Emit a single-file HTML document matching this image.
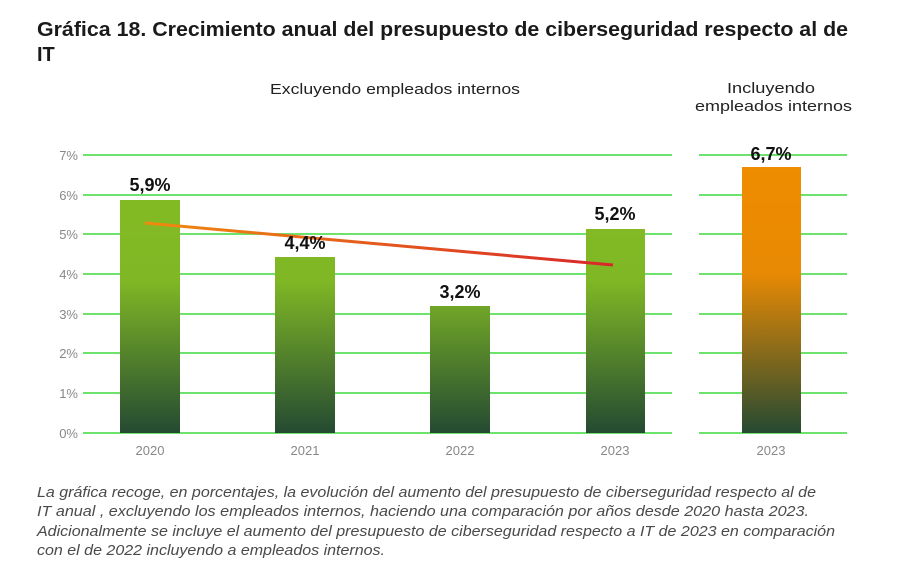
<!DOCTYPE html>
<html><head><meta charset="utf-8"><style>
body{margin:0;background:#fff;width:917px;height:583px;overflow:hidden;font-family:"Liberation Sans",sans-serif}
</style></head><body>
<svg width="917" height="583" xmlns="http://www.w3.org/2000/svg" style="position:absolute;left:0;top:0">
<defs>
<linearGradient id="gg" x1="0" y1="155" x2="0" y2="433" gradientUnits="userSpaceOnUse">
<stop offset="0" stop-color="#84bb24"/><stop offset="0.45" stop-color="#80b825"/><stop offset="1" stop-color="#254a32"/></linearGradient>
<linearGradient id="o" x1="0" y1="167" x2="0" y2="433" gradientUnits="userSpaceOnUse">
<stop offset="0" stop-color="#ef8c00"/><stop offset="0.4" stop-color="#e88a04"/><stop offset="1" stop-color="#254a32"/></linearGradient>
<linearGradient id="t" x1="150" y1="0" x2="615" y2="0" gradientUnits="userSpaceOnUse">
<stop offset="0" stop-color="#ef8a10"/><stop offset="1" stop-color="#d8262a"/></linearGradient>
</defs>
<text x="37" y="36" font-size="20" font-weight="bold" fill="#1a1a1a" textLength="811" lengthAdjust="spacingAndGlyphs">Gráfica 18. Crecimiento anual del presupuesto de ciberseguridad respecto al de</text>
<text x="37" y="61" font-size="20" font-weight="bold" fill="#1a1a1a">IT</text>
<text x="270" y="94" font-size="15" fill="#222" textLength="250" lengthAdjust="spacingAndGlyphs">Excluyendo empleados internos</text>
<text x="727" y="93" font-size="15" fill="#222" textLength="88" lengthAdjust="spacingAndGlyphs">Incluyendo</text>
<text x="695" y="111" font-size="15" fill="#222" textLength="157" lengthAdjust="spacingAndGlyphs">empleados internos</text>
<g stroke="#6de36d" stroke-width="2">
<line x1="83" y1="155" x2="672" y2="155"/><line x1="83" y1="195" x2="672" y2="195"/>
<line x1="83" y1="234" x2="672" y2="234"/><line x1="83" y1="274" x2="672" y2="274"/>
<line x1="83" y1="314" x2="672" y2="314"/><line x1="83" y1="353" x2="672" y2="353"/>
<line x1="83" y1="393" x2="672" y2="393"/><line x1="83" y1="433" x2="672" y2="433"/>
<line x1="699" y1="155" x2="847" y2="155"/><line x1="699" y1="195" x2="847" y2="195"/>
<line x1="699" y1="234" x2="847" y2="234"/><line x1="699" y1="274" x2="847" y2="274"/>
<line x1="699" y1="314" x2="847" y2="314"/><line x1="699" y1="353" x2="847" y2="353"/>
<line x1="699" y1="393" x2="847" y2="393"/><line x1="699" y1="433" x2="847" y2="433"/>
</g>
<g font-size="13" fill="#888" text-anchor="end">
<text x="78" y="160">7%</text><text x="78" y="200">6%</text><text x="78" y="239">5%</text><text x="78" y="279">4%</text>
<text x="78" y="319">3%</text><text x="78" y="358">2%</text><text x="78" y="398">1%</text><text x="78" y="438">0%</text>
</g>
<rect x="120" y="200" width="60" height="233" fill="url(#gg)"/>
<rect x="275" y="257" width="60" height="176" fill="url(#gg)"/>
<rect x="430" y="306" width="60" height="127" fill="url(#gg)"/>
<rect x="586" y="229" width="59" height="204" fill="url(#gg)"/>
<rect x="742" y="167" width="59" height="266" fill="url(#o)"/>
<line x1="145" y1="223" x2="613" y2="265" stroke="url(#t)" stroke-width="3"/>
<g font-size="18" font-weight="bold" fill="#111" text-anchor="middle">
<text x="150" y="191">5,9%</text><text x="305" y="249">4,4%</text><text x="460" y="298">3,2%</text>
<text x="615" y="220">5,2%</text><text x="771" y="160">6,7%</text>
</g>
<g font-size="13" fill="#888" text-anchor="middle">
<text x="150" y="455">2020</text><text x="305" y="455">2021</text><text x="460" y="455">2022</text>
<text x="615" y="455">2023</text><text x="771" y="455">2023</text>
</g>
<g font-size="14.5" font-style="italic" fill="#4a4a4a">
<text x="37" y="497" textLength="779" lengthAdjust="spacingAndGlyphs">La gráfica recoge, en porcentajes, la evolución del aumento del presupuesto de ciberseguridad respecto al de</text>
<text x="37" y="516" textLength="772" lengthAdjust="spacingAndGlyphs">IT anual , excluyendo los empleados internos, haciendo una comparación por años desde 2020 hasta 2023.</text>
<text x="37" y="536" textLength="798" lengthAdjust="spacingAndGlyphs">Adicionalmente se incluye el aumento del presupuesto de ciberseguridad respecto a IT de 2023 en comparación</text>
<text x="37" y="555" textLength="348" lengthAdjust="spacingAndGlyphs">con el de 2022 incluyendo a empleados internos.</text>
</g>
</svg>
</body></html>
